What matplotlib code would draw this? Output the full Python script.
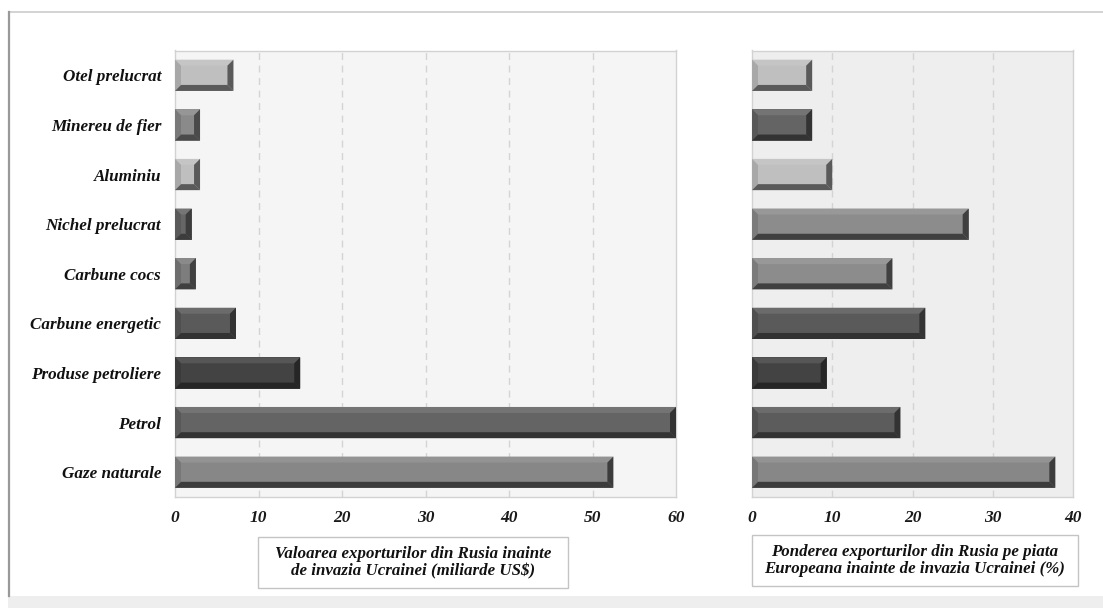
import numpy as np
import matplotlib
matplotlib.use("Agg")
import matplotlib.pyplot as plt
from matplotlib.patches import Polygon, Rectangle
from matplotlib.lines import Line2D

# Categories, top to bottom
categories = ["Otel prelucrat", "Minereu de fier", "Aluminiu", "Nichel prelucrat",
              "Carbune cocs", "Carbune energetic", "Produse petroliere", "Petrol",
              "Gaze naturale"]

# Export value before the invasion (billion US$)
export_value = [7.0, 3.0, 3.0, 2.0, 2.5, 7.3, 15.0, 60.0, 52.5]
# Share of Russian exports on the European market (%)
market_share = [7.5, 7.5, 10.0, 27.0, 17.5, 21.6, 9.3, 18.5, 37.8]

# face / dark-edge grey per bar
left_face = ["#bfbfbf", "#8a8a8a", "#bfbfbf", "#666666", "#7d7d7d",
             "#5a5a5a", "#434343", "#646464", "#878787"]
left_dark = ["#5a5a5a", "#4a4a4a", "#5a5a5a", "#3c3c3c", "#404040",
             "#333333", "#262626", "#333333", "#3c3c3c"]
right_face = ["#bfbfbf", "#646464", "#bfbfbf", "#8c8c8c", "#8c8c8c",
              "#5a5a5a", "#434343", "#5c5c5c", "#878787"]
right_dark = ["#5a5a5a", "#333333", "#5a5a5a", "#404040", "#404040",
              "#333333", "#262626", "#333333", "#3c3c3c"]

left_ticks = [0, 10, 20, 30, 40, 50, 60]
right_ticks = [0, 10, 20, 30, 40]

left_title = "Valoarea exporturilor din Rusia inainte\nde invazia Ucrainei (miliarde US\\$)"
right_title = "Ponderea exporturilor din Rusia pe piata\nEuropeana inainte de invazia Ucrainei (%)"

W, H = 1103, 608
FONT = dict(family="Liberation Serif", weight="bold", style="italic")
BAR_H = 0.63
BEVEL = 6.0


def mix(c, other, t):
    a = np.array(matplotlib.colors.to_rgb(c))
    b = np.array(matplotlib.colors.to_rgb(other))
    return tuple(a * (1 - t) + b * t)


def bevel_bars(ax, values, faces, darks):
    ypos = np.arange(len(values))
    ax.barh(ypos, values, height=BAR_H, color=faces, zorder=3)
    inv = ax.transData.inverted()
    for y, v, fc, dc in zip(ypos, values, faces, darks):
        (xa, ya), (xb, yb) = ax.transData.transform([(0, y - BAR_H / 2), (v, y + BAR_H / 2)])
        x0, x1 = min(xa, xb), max(xa, xb)
        y0, y1 = min(ya, yb), max(ya, yb)
        bx = min(BEVEL, (x1 - x0) / 2)
        by = BEVEL
        pieces = [
            ([(x0, y1), (x1, y1), (x1 - bx, y1 - by), (x0 + bx, y1 - by)], mix(fc, "white", 0.10)),
            ([(x0, y0), (x0, y1), (x0 + bx, y1 - by), (x0 + bx, y0 + by)], mix(fc, "black", 0.12)),
            ([(x1, y0), (x1, y1), (x1 - bx, y1 - by), (x1 - bx, y0 + by)], dc),
            ([(x0, y0), (x1, y0), (x1 - bx, y0 + by), (x0 + bx, y0 + by)], dc),
        ]
        for pts, col in pieces:
            ax.add_patch(Polygon(inv.transform(pts), closed=True, facecolor=col,
                                 edgecolor="none", zorder=4))


def setup_axes(ax, xmax, ticks, bg):
    ax.set_facecolor(bg)
    ax.set_xlim(0, xmax)
    ax.set_ylim(-0.5, len(categories) - 0.5)
    ax.invert_yaxis()
    ax.set_xticks(ticks)
    ax.set_xticklabels([str(t) for t in ticks], fontsize=12.5, color="#1a1a1a", **FONT)
    ax.tick_params(axis="both", length=0)
    ax.tick_params(axis="x", pad=9)
    for t in ticks[1:-1]:
        ax.axvline(t, color="#d4d4d4", linestyle=(0, (5, 4)), linewidth=1.0, zorder=1)
    for s in ax.spines.values():
        s.set_color("#d2d2d2")
        s.set_linewidth(1.0)


fig = plt.figure(figsize=(W / 100, H / 100), dpi=100)
fig.patch.set_facecolor("white")

ax1 = fig.add_axes([175 / W, (H - 497) / H, 501 / W, 446.5 / H])
ax2 = fig.add_axes([752 / W, (H - 497) / H, 321 / W, 446.5 / H])

setup_axes(ax1, 60, left_ticks, "#f5f5f5")
setup_axes(ax2, 40, right_ticks, "#eeeeee")

ax1.set_yticks(np.arange(len(categories)))
ax1.set_yticklabels(categories, fontsize=12.3, color="#111111", **FONT)
ax1.tick_params(axis="y", pad=10)
ax2.set_yticks([])

bevel_bars(ax1, export_value, left_face, left_dark)
bevel_bars(ax2, market_share, right_face, right_dark)

# outer frame lines and bottom strip
fig.add_artist(Line2D([8.5 / W, 1.0], [1 - 12 / H, 1 - 12 / H], color="#cccccc", linewidth=1.2))
fig.add_artist(Line2D([8.5 / W, 8.5 / W], [12 / H, 1 - 12 / H], color="#999999", linewidth=1.6))
fig.add_artist(Rectangle((8 / W, 0), 1 - 8 / W, 12 / H, transform=fig.transFigure,
                         facecolor="#eeeeee", edgecolor="none"))

# axis caption boxes
for (x0, y_top, w, h), txt in [((258, 537, 310, 51), left_title),
                                ((752, 535, 326, 51), right_title)]:
    fig.add_artist(Rectangle((x0 / W, (H - y_top - h) / H), w / W, h / H,
                             transform=fig.transFigure, facecolor="white",
                             edgecolor="#c4c4c4", linewidth=1.0))
    fig.text((x0 + w / 2) / W, (H - y_top - h / 2) / H, txt, ha="center", va="center",
             fontsize=12.2, color="#111111", linespacing=1.15, **FONT)

fig.savefig("out.png", dpi=100)
